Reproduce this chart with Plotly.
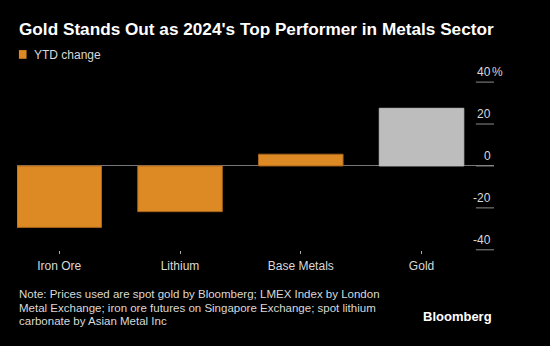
import plotly.graph_objects as go

categories = ["Iron Ore", "Lithium", "Base Metals", "Gold"]
ytd_change = [-29.3, -21.8, 5.6, 27.5]
bar_colors = ["#dd8a25", "#dd8a25", "#dd8a25", "#bdbdbd"]
line_colors = ["#a8651c", "#a8651c", "#a8651c", "#bdbdbd"]
y_ticks = [40, 20, 0, -20, -40]
y_tick_labels = ["40%", "20", "0", "-20", "-40"]

title = "Gold Stands Out as 2024's Top Performer in Metals Sector"
note_lines = [
    "Note: Prices used are spot gold by Bloomberg; LMEX Index by London",
    "Metal Exchange; iron ore futures on Singapore Exchange; spot lithium",
    "carbonate by Asian Metal Inc",
]

FONT = "Liberation Sans"
fig = go.Figure()
fig.add_trace(go.Bar(
    x=categories, y=ytd_change,
    marker=dict(color=bar_colors, line=dict(color=line_colors, width=1)),
    width=0.7, name="YTD change", showlegend=False,
))

shapes = []
annotations = []
for v, lab in zip(y_ticks, y_tick_labels):
    shapes.append(dict(type="line", xref="paper", yref="y", x0=0.962, x1=1.0,
                       y0=v, y1=v, line=dict(color="#8c8c8c", width=1)))
    num = lab.rstrip("%")
    annotations.append(dict(xref="paper", yref="y", x=0.9985, y=v, text=num,
                            showarrow=False, xanchor="right", yanchor="bottom",
                            yshift=1, font=dict(size=12, color="#d9d9d9", family=FONT)))
    if lab.endswith("%"):
        annotations.append(dict(xref="paper", yref="y", x=0.9985, y=v, text="%",
                                showarrow=False, xanchor="left", yanchor="bottom",
                                yshift=1, xshift=-3,
                                font=dict(size=12, color="#d9d9d9", family=FONT)))

# legend
shapes.append(dict(type="rect", xref="paper", yref="paper", x0=0.004, x1=0.02,
                   y0=1.122, y1=1.172, fillcolor="#dd8a25", line=dict(width=0)))
annotations.append(dict(xref="paper", yref="paper", x=0.031, y=1.143, text="YTD change",
                        showarrow=False, xanchor="left", yanchor="middle",
                        font=dict(size=12, color="#d9d9d9", family=FONT)))
# title
annotations.append(dict(xref="paper", yref="paper", x=0.0, y=1.293, text="<b>" + title + "</b>",
                        showarrow=False, xanchor="left", yanchor="middle",
                        font=dict(size=17.2, color="#ffffff", family=FONT)))
# note
for i, line in enumerate(note_lines):
    annotations.append(dict(xref="paper", yref="paper", x=0.0, y=-0.2299 - i * 0.0776,
                            text=line, showarrow=False, xanchor="left", yanchor="middle",
                            font=dict(size=11.5, color="#d9d9d9", family=FONT)))
annotations.append(dict(xref="paper", yref="paper", x=1.0, y=-0.358, text="<b>Bloomberg</b>",
                        showarrow=False, xanchor="right", yanchor="middle",
                        font=dict(size=13, color="#ffffff", family=FONT)))

fig.update_layout(
    width=550, height=346,
    margin=dict(l=17, r=56, t=80, b=92),
    paper_bgcolor="#000000", plot_bgcolor="#000000",
    showlegend=False,
    shapes=shapes, annotations=annotations,
    xaxis=dict(range=[-0.35, 3.6], showgrid=False, zeroline=False, showline=False,
               ticks="inside", ticklen=3, tickcolor="#aaaaaa", tickwidth=1,
               ticklabelstandoff=3,
               tickfont=dict(size=12, color="#d9d9d9", family=FONT)),
    yaxis=dict(range=[-42, 41], showgrid=False, showticklabels=False,
               zeroline=True, zerolinecolor="#777777", zerolinewidth=1, ticks=""),
)

fig.write_html("out.html")
